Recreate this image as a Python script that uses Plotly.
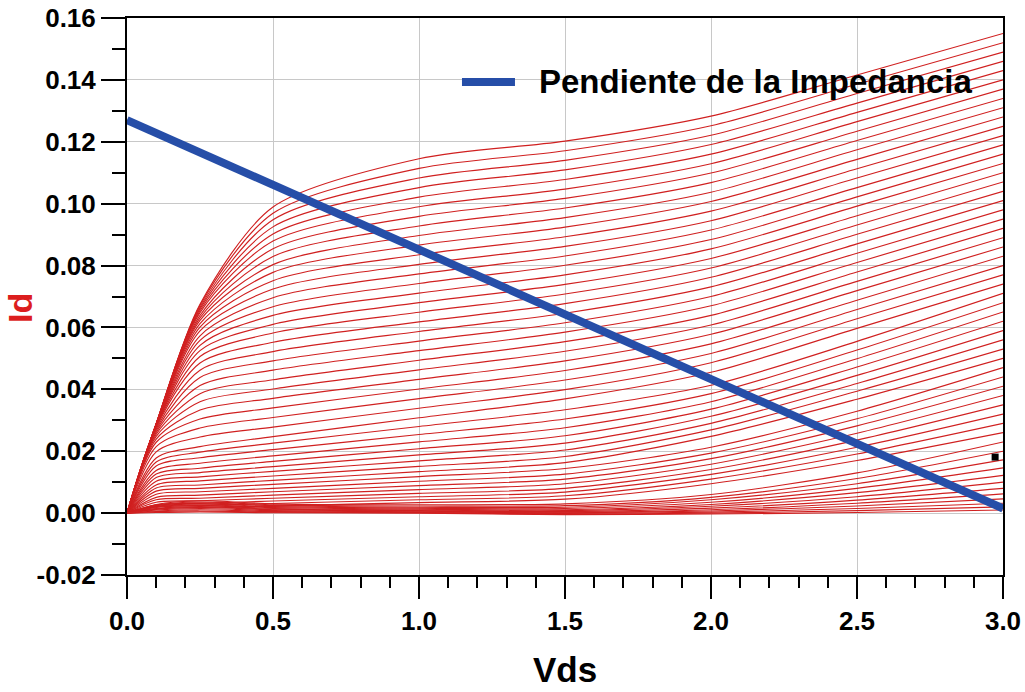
import plotly.graph_objects as go

# Vds sample points shared by every Id(Vds) curve
vds_knots = [0.0, 0.1, 0.25, 0.5, 1.0, 1.5, 2.0, 2.5, 3.0]

# Id of each curve (top curve first) at each Vds sample point
id_v000 = [0.0] * 56
id_v010 = [
    .0289, .0289, .0289, .0288, .0288, .0288, .0287, .0287, .0287, .0287,
    .0286, .0286, .0285, .0284, .0283, .0282, .0280, .0277, .0272, .0267,
    .0261, .0255, .0248, .0239, .0229, .0215, .0198, .0178, .0165, .0152,
    .0138, .0126, .0115, .0103, .0091, .0081, .0071, .0061, .0051, .0043,
    .0035, .0027, .0021, .0014,
    .0028, .0026, .0024, .0022, .0020, .0018, .0015, .0012, .0010, .0007, .0005, .0002]
id_v025 = [
    .0675, .0671, .0665, .0660, .0654, .0648, .0639, .0631, .0623, .0612,
    .0601, .0589, .0573, .0558, .0542, .0525, .0506, .0485, .0462, .0438,
    .0412, .0386, .0360, .0333, .0304, .0275, .0246, .0215, .0197, .0179,
    .0161, .0145, .0131, .0117, .0104, .0091, .0080, .0069, .0058, .0048,
    .0040, .0031, .0024, .0018,
    .0040, .0036, .0033, .0030, .0027, .0024, .0021, .0018, .0015, .0011, .0007, .0004]
id_v050 = [
    .0989, .0969, .0948, .0925, .0902, .0879, .0854, .0829, .0803, .0778,
    .0751, .0724, .0696, .0667, .0639, .0610, .0582, .0552, .0522, .0492,
    .0462, .0431, .0401, .0371, .0340, .0309, .0278, .0247, .0226, .0205,
    .0185, .0167, .0150, .0135, .0120, .0106, .0093, .0080, .0069, .0058,
    .0048, .0039, .0031, .0023,
    .0030, .0027, .0024, .0021, .0018, .0015, .0013, .0011, .0008, .0005, .0003, .0001]
id_v100 = [
    .1145, .1114, .1083, .1052, .1021, .0990, .0959, .0928, .0897, .0866,
    .0835, .0804, .0773, .0742, .0711, .0680, .0649, .0618, .0587, .0556,
    .0525, .0494, .0463, .0432, .0401, .0370, .0339, .0308, .0280, .0254,
    .0230, .0208, .0188, .0169, .0151, .0134, .0118, .0103, .0089, .0076,
    .0064, .0053, .0043, .0034,
    .0027, .0023, .0019, .0016, .0013, .0010, .0008, .0006, .0004, .0002, .0001, .0000]
id_v150 = [
    .1202, .1171, .1140, .1109, .1078, .1047, .1017, .0986, .0955, .0924,
    .0893, .0862, .0831, .0801, .0770, .0739, .0708, .0677, .0646, .0615,
    .0585, .0554, .0523, .0492, .0461, .0430, .0399, .0369, .0334, .0304,
    .0276, .0250, .0226, .0204, .0183, .0163, .0144, .0126, .0110, .0095,
    .0080, .0068, .0056, .0045,
    .0030, .0024, .0019, .0015, .0011, .0008, .0005, .0003, .0001, -.0001, -.0003, -.0005]
id_v200 = [
    .1283, .1252, .1221, .1191, .1160, .1129, .1099, .1068, .1037, .1007,
    .0976, .0945, .0915, .0884, .0854, .0823, .0792, .0762, .0731, .0700,
    .0670, .0639, .0608, .0578, .0547, .0516, .0486, .0455, .0413, .0386,
    .0360, .0336, .0313, .0290, .0269, .0248, .0213, .0194, .0176, .0158,
    .0141, .0125, .0110, .0095,
    .0060, .0051, .0043, .0035, .0028, .0022, .0016, .0011, .0007, .0003, .0000, -.0003]
id_v250 = [
    .1416, .1386, .1356, .1325, .1295, .1265, .1234, .1204, .1174, .1143,
    .1113, .1083, .1052, .1022, .0992, .0961, .0931, .0901, .0870, .0840,
    .0810, .0779, .0749, .0719, .0688, .0658, .0628, .0597, .0555, .0527,
    .0499, .0472, .0445, .0419, .0394, .0368, .0329, .0305, .0282, .0258,
    .0236, .0213, .0191, .0170,
    .0130, .0112, .0095, .0080, .0066, .0053, .0042, .0032, .0023, .0015, .0008, .0002]
id_v300 = [
    .1550, .1520, .1490, .1460, .1430, .1400, .1370, .1340, .1310, .1280,
    .1250, .1220, .1190, .1160, .1130, .1100, .1070, .1040, .1010, .0980,
    .0950, .0920, .0890, .0860, .0830, .0800, .0770, .0740, .0710, .0680,
    .0650, .0620, .0590, .0560, .0530, .0500, .0470, .0440, .0410, .0380,
    .0350, .0320, .0290, .0260,
    .0230, .0200, .0172, .0146, .0122, .0100, .0080, .0062, .0046, .0032, .0020, .0010]

# Load line ("Pendiente de la Impedancia")
load_vds = [0.0, 3.0]
load_id = [0.127, 0.0015]

# Marker point
marker_vds = [2.973]
marker_id = [0.0181]

# Axis ticks
x_tickvals = [0.0, 0.5, 1.0, 1.5, 2.0, 2.5, 3.0]
x_ticktext = ["0.0", "0.5", "1.0", "1.5", "2.0", "2.5", "3.0"]
y_tickvals = [-0.02, 0.0, 0.02, 0.04, 0.06, 0.08, 0.10, 0.12, 0.14, 0.16]
y_ticktext = ["-0.02", "0.00", "0.02", "0.04", "0.06", "0.08", "0.10", "0.12", "0.14", "0.16"]

columns = [id_v000, id_v010, id_v025, id_v050, id_v100, id_v150, id_v200, id_v250, id_v300]

FONT = "Liberation Sans, Arial, Helvetica, sans-serif"
RED = "rgb(208,32,32)"
BLUE = "rgb(38,78,168)"

fig = go.Figure()

for k in range(len(id_v100)):
    fig.add_trace(go.Scatter(
        x=vds_knots,
        y=[col[k] for col in columns],
        mode="lines",
        line=dict(color=RED, width=1.15, shape="spline", smoothing=0.8),
        showlegend=False,
        hoverinfo="skip",
    ))

fig.add_trace(go.Scatter(
    x=load_vds, y=load_id, mode="lines",
    line=dict(color=BLUE, width=8),
    name="Pendiente de la Impedancia", showlegend=False,
))

fig.add_trace(go.Scatter(
    x=marker_vds, y=marker_id, mode="markers",
    marker=dict(symbol="square", size=7, color="black"),
    showlegend=False,
))

axis_common = dict(
    showline=True, linecolor="black", linewidth=2, mirror=True,
    showgrid=True, gridcolor="#c8c8c8", gridwidth=1,
    zeroline=False, automargin=False,
    ticks="outside", tickcolor="black", tickwidth=2,
    tickfont=dict(family=FONT, size=26, color="black", weight="bold"),
    tickmode="array",
)

fig.update_xaxes(
    **axis_common,
    range=[0, 3.0],
    tickvals=x_tickvals, ticktext=x_ticktext, ticklen=22,
    minor=dict(tickmode="linear", tick0=0, dtick=0.1, ticks="outside",
               ticklen=11, tickwidth=2, tickcolor="black", showgrid=False),
)
fig.update_yaxes(
    **axis_common,
    range=[-0.02, 0.16],
    tickvals=y_tickvals, ticktext=y_ticktext, ticklen=24,
    minor=dict(tickmode="linear", tick0=0, dtick=0.01, ticks="outside",
               ticklen=13, tickwidth=2, tickcolor="black", showgrid=False),
)

fig.update_layout(
    width=1025, height=692,
    margin=dict(l=127, r=22, t=18, b=117),
    paper_bgcolor="white", plot_bgcolor="white",
    showlegend=False,
    shapes=[dict(type="line", xref="paper", yref="paper",
                 x0=0.3824, x1=0.4429, y0=0.8851, y1=0.8851,
                 line=dict(color=BLUE, width=8))],
    annotations=[
        dict(text="Pendiente de la Impedancia", xref="paper", yref="paper",
             x=0.468, y=0.8851, xanchor="left", yanchor="middle", showarrow=False,
             font=dict(family=FONT, size=33, color="black", weight="bold")),
        dict(text="Vds", xref="paper", yref="paper",
             x=0.5, y=-0.2082, xanchor="center", yanchor="bottom", showarrow=False,
             font=dict(family=FONT, size=35, color="black", weight="bold")),
        dict(text="Id", xref="paper", yref="paper", textangle=-90,
             x=-0.1221, y=0.4794, xanchor="center", yanchor="middle", showarrow=False,
             font=dict(family=FONT, size=34, color="rgb(220,30,30)", weight="bold")),
    ],
)

fig.write_html("out.html")
